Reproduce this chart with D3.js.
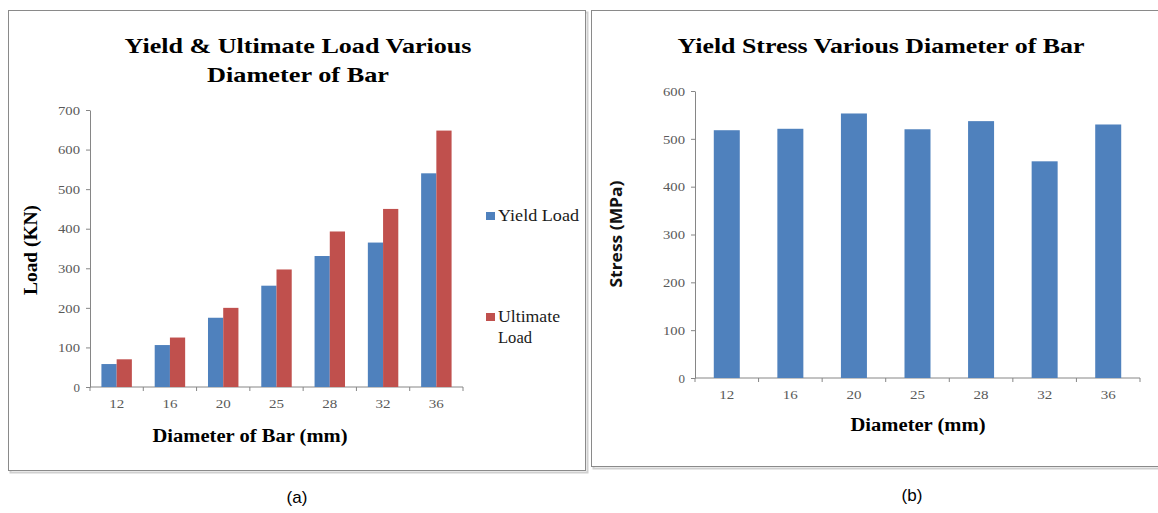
<!DOCTYPE html>
<html>
<head>
<meta charset="utf-8">
<script src="https://cdn.jsdelivr.net/npm/d3@7"></script>
<style>
  body { margin: 0; background: #fff; }
  svg { display: block; }
</style>
</head>
<body>
<svg id="chart" width="1158" height="513"></svg>
<script>
// data
const diameters = ["12", "16", "20", "25", "28", "32", "36"];
const yieldLoad = [58, 106, 175, 256, 331, 365, 540];
const ultimateLoad = [70, 125, 200, 297, 393, 450, 648];
const yieldStress = [518, 521, 553, 520, 537, 453, 530];
const loadTicks = [0, 100, 200, 300, 400, 500, 600, 700];
const stressTicks = [0, 100, 200, 300, 400, 500, 600];
const seriesNames = ["Yield Load", "Ultimate Load"];

const blue = "#4F81BD";
const red = "#C0504D";
const axisGray = "#868686";
const serif = "'Liberation Serif', 'Times New Roman', serif";

const svg = d3.select("#chart");

// panel frames
function frame(x, y, w, h) {
    svg.append("rect").attr("x", x + 2).attr("y", y + 2).attr("width", w).attr("height", h)
        .attr("fill", "none").attr("stroke", "#d0d0d0").attr("stroke-width", 2);
    svg.append("rect").attr("x", x).attr("y", y).attr("width", w).attr("height", h)
        .attr("fill", "#fff").attr("stroke", "#8a8a8a").attr("stroke-width", 1);
}
frame(8.5, 10.5, 577, 460);
frame(591.5, 10.5, 580, 456);

// stretched label helper, the source picture is wider than the font
function label(g, txt, x, y, size, len, opts = {}) {
    const t = g.append("text")
        .attr("text-anchor", "middle")
        .style("font-family", opts.family || serif)
        .style("font-weight", opts.weight || "bold")
        .style("font-size", size + "px")
        .attr("fill", opts.fill || "#000")
        .text(txt);
    if (opts.rotate) t.attr("transform", `translate(${x},${y}) rotate(-90)`);
    else t.attr("x", x).attr("y", y);
    if (len) t.attr("textLength", len).attr("lengthAdjust", "spacingAndGlyphs");
    return t;
}

function drawAxes(g, x, y, ticks, x0, x1, y0) {
    const ya = g.append("g").attr("transform", `translate(${x0},0)`)
        .call(d3.axisLeft(y).tickValues(ticks).tickSize(4).tickPadding(6).tickSizeOuter(0));
    ya.select(".domain").attr("stroke", axisGray);
    ya.selectAll(".tick line").attr("stroke", axisGray);
    ya.selectAll(".tick text").attr("fill", "#595959").style("font-family", serif).style("font-size", "13px")
        .attr("textLength", 22).attr("lengthAdjust", "spacingAndGlyphs")
        .filter(d => d === 0).attr("textLength", null);

    // x axis, ticks sit between categories
    const xa = g.append("g").attr("transform", `translate(0,${y0})`)
        .call(d3.axisBottom(x).tickSize(0).tickPadding(12));
    xa.select(".domain").attr("stroke", axisGray).attr("d", `M${x0},0H${x1}`);
    xa.selectAll(".tick text").attr("fill", "#595959").style("font-family", serif).style("font-size", "13px")
        .attr("textLength", 15).attr("lengthAdjust", "spacingAndGlyphs");
    const edges = x.domain().map(d => x(d)).concat([x1]);
    g.selectAll(null).data(edges).enter().append("line")
        .attr("x1", d => d).attr("x2", d => d)
        .attr("y1", y0).attr("y2", y0 + 4)
        .attr("stroke", axisGray);
}

// ---- chart (a)
const ga = svg.append("g");
const xA = d3.scaleBand().domain(diameters).range([90, 463]);
const yA = d3.scaleLinear().domain([0, 700]).range([387, 110]);
const inner = d3.scaleBand().domain(seriesNames).range([0, xA.bandwidth()]).paddingOuter(0.75).paddingInner(0);

drawAxes(ga, xA, yA, loadTicks, 90, 463, 387);

const pairs = diameters.map((d, i) => ({ d, values: [yieldLoad[i], ultimateLoad[i]] }));
ga.selectAll(".grp").data(pairs).enter().append("g")
    .attr("transform", p => `translate(${xA(p.d)},0)`)
    .selectAll("rect").data(p => p.values.map((v, j) => ({ v, s: seriesNames[j] })))
    .enter().append("rect")
    .attr("x", d => inner(d.s))
    .attr("width", inner.bandwidth())
    .attr("y", d => yA(d.v))
    .attr("height", d => yA(0) - yA(d.v))
    .attr("fill", d => d.s === seriesNames[0] ? blue : red);

label(ga, "Yield & Ultimate Load Various", 298, 53, 22, 347);
label(ga, "Diameter of Bar", 298, 82, 22, 182);
label(ga, "Diameter of Bar (mm)", 250, 442, 18, 195);
label(ga, "Load (KN)", 37, 250, 18, 90, { rotate: true });

// legend
const legend = ga.append("g").attr("transform", "translate(486,0)");
legend.append("rect").attr("x", 0).attr("y", 212).attr("width", 9).attr("height", 8).attr("fill", blue);
legend.append("text").attr("x", 12).attr("y", 221).attr("textLength", 81).attr("lengthAdjust", "spacingAndGlyphs")
    .style("font-family", serif).style("font-size", "17px").attr("fill", "#1a1a1a").text("Yield Load");
legend.append("rect").attr("x", 0).attr("y", 313).attr("width", 9).attr("height", 8).attr("fill", red);
legend.append("text").attr("x", 12).attr("y", 322).attr("textLength", 62).attr("lengthAdjust", "spacingAndGlyphs")
    .style("font-family", serif).style("font-size", "17px").attr("fill", "#1a1a1a").text("Ultimate");
legend.append("text").attr("x", 12).attr("y", 343).attr("textLength", 34).attr("lengthAdjust", "spacingAndGlyphs")
    .style("font-family", serif).style("font-size", "17px").attr("fill", "#1a1a1a").text("Load");

// ---- chart (b)
const gb = svg.append("g");
const xB = d3.scaleBand().domain(diameters).range([695, 1140]);
const yB = d3.scaleLinear().domain([0, 600]).range([378, 91]);

drawAxes(gb, xB, yB, stressTicks, 695, 1140, 378);

gb.selectAll(".bar").data(diameters).enter().append("rect")
    .attr("x", d => xB(d) + (xB.bandwidth() - 26) / 2)
    .attr("width", 26)
    .attr("y", (d, i) => yB(yieldStress[i]))
    .attr("height", (d, i) => yB(0) - yB(yieldStress[i]))
    .attr("fill", blue);

label(gb, "Yield Stress Various Diameter of Bar", 881, 53, 22, 407);
label(gb, "Diameter (mm)", 918, 431, 18, 135);
label(gb, "Stress (MPa)", 622, 234, 16, 107,
    { rotate: true, family: "'Open Sans', 'Noto Sans', sans-serif", fill: "#111" });

// captions
svg.append("text").attr("x", 297).attr("y", 503).attr("text-anchor", "middle")
    .style("font-family", "'Liberation Sans Narrow', 'Liberation Sans', sans-serif").style("font-size", "17px").text("(a)");
svg.append("text").attr("x", 912).attr("y", 501).attr("text-anchor", "middle")
    .style("font-family", "'Liberation Sans Narrow', 'Liberation Sans', sans-serif").style("font-size", "17px").text("(b)");
</script>
</body>
</html>
